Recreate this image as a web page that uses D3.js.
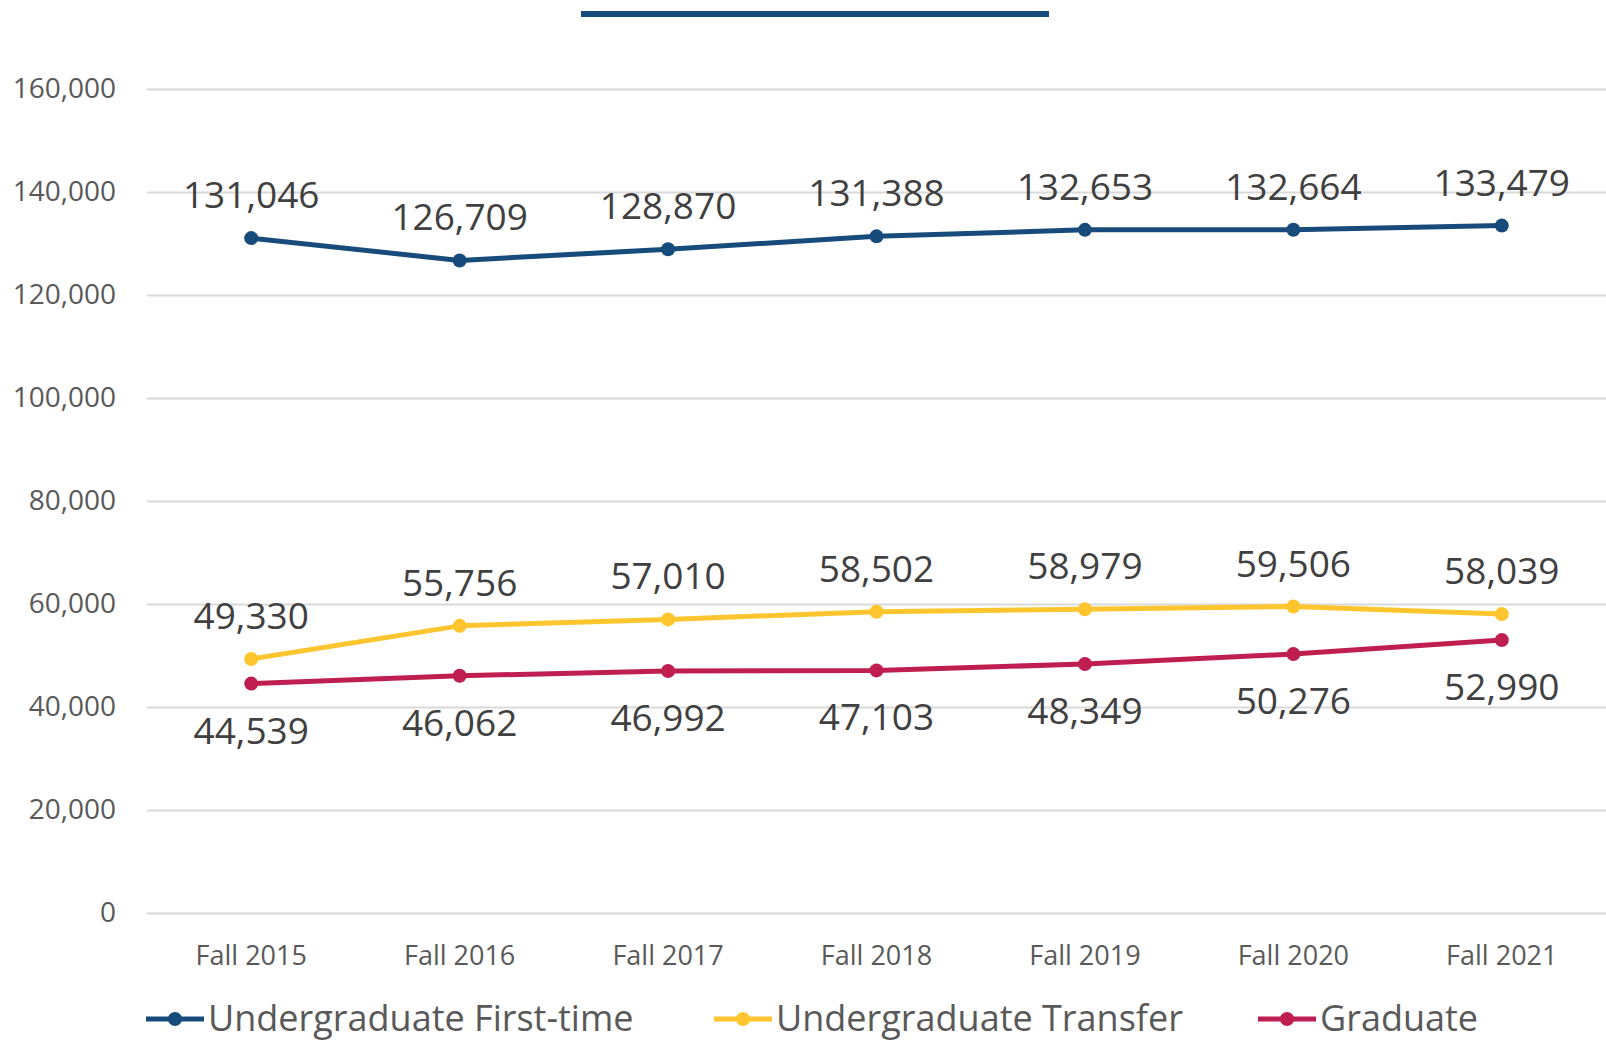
<!DOCTYPE html>
<html>
<head>
<meta charset="utf-8">
<script src="https://cdn.jsdelivr.net/npm/d3@7"></script>
<style>
  body { margin: 0; background: #fff; }
  svg { display: block; font-family: "Open Sans", "Noto Sans", sans-serif; }
</style>
</head>
<body>
<div id="chart"></div>
<script>
// Chart data
var terms = ["Fall 2015", "Fall 2016", "Fall 2017", "Fall 2018", "Fall 2019", "Fall 2020", "Fall 2021"];
var firstTime = [131046, 126709, 128870, 131388, 132653, 132664, 133479];
var transfer = [49330, 55756, 57010, 58502, 58979, 59506, 58039];
var graduate = [44539, 46062, 46992, 47103, 48349, 50276, 52990];
var yTicks = [0, 20000, 40000, 60000, 80000, 100000, 120000, 140000, 160000];
var seriesNames = ["Undergraduate First-time", "Undergraduate Transfer", "Graduate"];

var svgWidth = 1606;
var svgHeight = 1044;

var margin = { top: 89, right: 0, bottom: 131, left: 147 };
var width = svgWidth - margin.left - margin.right;
var height = svgHeight - margin.top - margin.bottom;

var svg = d3.select("#chart")
  .append("svg")
  .attr("width", svgWidth)
  .attr("height", svgHeight);

// title placeholder bar
svg.append("rect")
  .attr("x", 581).attr("y", 11)
  .attr("width", 468).attr("height", 6)
  .attr("fill", "#174b7b");

var chartGroup = svg.append("g")
  .attr("transform", `translate(${margin.left}, ${margin.top})`);

var xScale = d3.scaleBand()
  .domain(terms)
  .range([0, width]);

var yScale = d3.scaleLinear()
  .domain([0, 160000])
  .range([height, 0]);

// gridlines + y labels
var leftAxis = d3.axisLeft(yScale)
  .tickValues(yTicks)
  .tickSize(-width)
  .tickPadding(31)
  .tickFormat(d3.format(","));

var yAxis = chartGroup.append("g").call(leftAxis);
yAxis.select(".domain").remove();
yAxis.selectAll("line").attr("stroke", "#d9d9d9").attr("stroke-width", 2);
yAxis.selectAll("text")
  .attr("fill", "#595959")
  .attr("font-size", "28px")
  .attr("font-family", "'Open Sans', sans-serif");

// x labels
var bottomAxis = d3.axisBottom(xScale).tickSize(0).tickPadding(33);
var xAxis = chartGroup.append("g")
  .attr("transform", `translate(0, ${height})`)
  .call(bottomAxis);
xAxis.select(".domain").remove();
xAxis.selectAll("text")
  .attr("fill", "#595959")
  .attr("font-size", "27px")
  .attr("font-family", "'Open Sans', sans-serif");

var series = [
  { name: seriesNames[0], values: firstTime, color: "#174b7b", below: false },
  { name: seriesNames[1], values: transfer, color: "#fec52e", below: false },
  { name: seriesNames[2], values: graduate, color: "#bf1f50", below: true }
];

var cx = function(i) { return xScale(terms[i]) + xScale.bandwidth() / 2; };

var line = d3.line()
  .x((d, i) => cx(i))
  .y(d => yScale(d));

series.forEach(function(s) {
  chartGroup.append("path")
    .datum(s.values)
    .attr("fill", "none")
    .attr("stroke", s.color)
    .attr("stroke-width", 5)
    .attr("stroke-linejoin", "round")
    .attr("d", line);

  chartGroup.selectAll(null)
    .data(s.values)
    .enter()
    .append("circle")
    .attr("cx", (d, i) => cx(i))
    .attr("cy", d => yScale(d))
    .attr("r", 7)
    .attr("fill", s.color);

  chartGroup.selectAll(null)
    .data(s.values)
    .enter()
    .append("text")
    .text(d => d3.format(",")(d))
    .attr("x", (d, i) => cx(i))
    .attr("y", d => yScale(d) + (s.below ? 60 : -30))
    .attr("text-anchor", "middle")
    .attr("fill", "#404040")
    .attr("font-size", "37px");
});

// legend (kept just inside the bottom edge)
var legendX = [146, 714, 1258];
var legend = svg.append("g");
series.forEach(function(s, i) {
  var g = legend.append("g").attr("transform", `translate(${legendX[i]}, 1019)`);
  g.append("line")
    .attr("x1", 0).attr("x2", 58)
    .attr("stroke", s.color)
    .attr("stroke-width", 5);
  g.append("circle")
    .attr("cx", 29).attr("r", 7)
    .attr("fill", s.color);
  g.append("text")
    .text(s.name)
    .attr("x", 62)
    .attr("y", 12)
    .attr("fill", "#595959")
    .attr("font-size", "36px");
});
</script>
</body>
</html>
